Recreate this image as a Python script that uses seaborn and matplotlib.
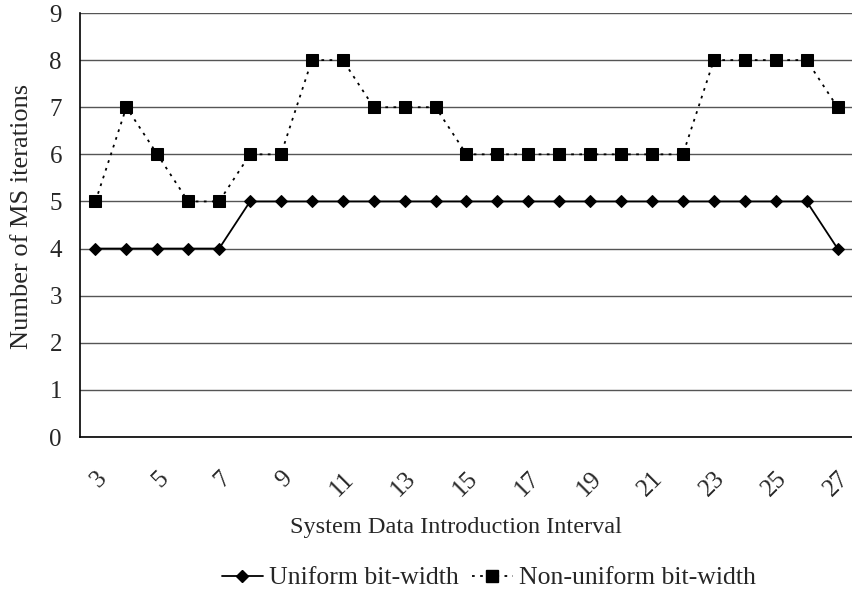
import numpy as np
import pandas as pd
import matplotlib
matplotlib.use("Agg")
import matplotlib.pyplot as plt
import matplotlib.transforms as mtrans
import seaborn as sns
from matplotlib.lines import Line2D

intervals = list(range(3, 28))
uniform = [4, 4, 4, 4, 4, 5, 5, 5, 5, 5, 5, 5, 5, 5, 5, 5, 5, 5, 5, 5, 5, 5, 5, 5, 4]
nonuniform = [5, 7, 6, 5, 5, 6, 6, 8, 8, 7, 7, 7, 6, 6, 6, 6, 6, 6, 6, 6, 8, 8, 8, 8, 7]
xtick_labels = [str(v) for v in range(3, 28, 2)]
series_names = ["Uniform bit-width", "Non-uniform bit-width"]

sns.set_style("white")
plt.rcParams['font.family'] = ['Liberation Serif', 'DejaVu Serif']

fig = plt.figure(figsize=(8.53, 6.02), dpi=100)
ax = fig.add_axes([80/853, 1-437/602, (853-80)/853, (437-13)/602])

df = pd.DataFrame({"interval": intervals, "u": uniform, "n": nonuniform})

sns.lineplot(data=df, x="interval", y="u", ax=ax, color="black", lw=1.3,
             marker="D", markersize=6, markeredgecolor="black", zorder=4)
sns.lineplot(data=df, x="interval", y="n", ax=ax, color="black", lw=1.3,
             marker="s", markersize=8.5, markeredgecolor="black", zorder=4,
             linestyle=(0, (1.5, 3)))

ax.set_xlim(2.5, 2.5 + (853-80)/31.17)
ax.set_ylim(0, 9)
ax.set_yticks(range(0, 10))
ax.yaxis.grid(True, color="#555555", lw=1)
ax.set_axisbelow(True)

ax.set_xticks(list(range(3, 28, 2)))
ax.set_xticklabels(xtick_labels, rotation=45, ha="right", va="top",
                   rotation_mode="anchor", fontsize=18)
offset = mtrans.ScaledTranslation(-9/100, 0, fig.dpi_scale_trans)
for lbl in ax.get_xticklabels():
    lbl.set_transform(lbl.get_transform() + offset)
ax.set_xticks([v + 0.5 for v in range(2, 28)], minor=True)
ax.tick_params(axis="x", which="major", length=0, pad=22)
ax.tick_params(axis="x", which="minor", direction="in", length=6, width=1, color="black")
ax.tick_params(axis="y", direction="in", length=5, width=1, color="black", labelsize=18, pad=13)

for s in ["top", "right"]:
    ax.spines[s].set_visible(False)
for s in ["left", "bottom"]:
    ax.spines[s].set_color("black")
    ax.spines[s].set_linewidth(1.2)

ax.set_xlabel("System Data Introduction Interval", fontsize=17.5)
ax.xaxis.set_label_coords((456-80)/(853-80), -(527-437)/(437-13))
ax.xaxis.label.set_va("center")
ax.set_ylabel("Number of MS iterations", fontsize=19)
ax.yaxis.set_label_coords(-(80-22)/(853-80), 0.52)
ax.yaxis.label.set_va("center")

handles = [
    Line2D([], [], color="black", lw=1.3, marker="D", markersize=6),
    Line2D([], [], color="black", lw=1.3, marker="s", markersize=8.5, linestyle=(0, (1.5, 3))),
]
fig.legend(handles, series_names, loc="center", bbox_to_anchor=(489/853, 1-578/602),
           ncol=2, frameon=False, fontsize=18.5, handlelength=1.6, columnspacing=0.5,
           handletextpad=0.25)

fig.savefig("out.png", dpi=100)
